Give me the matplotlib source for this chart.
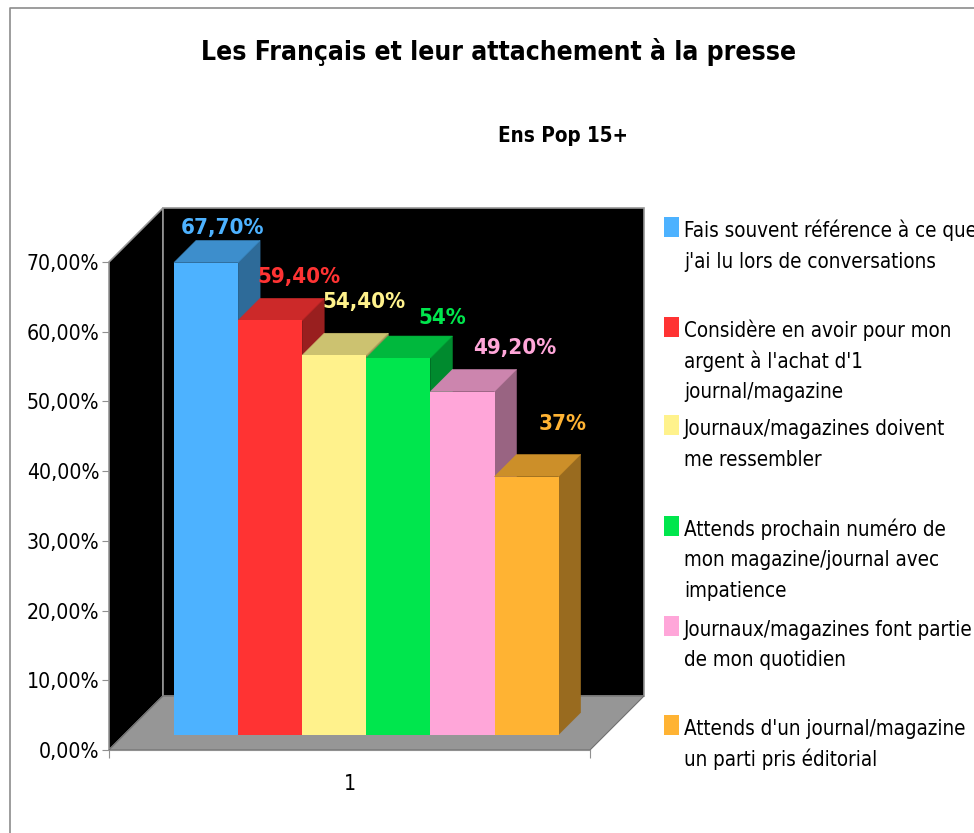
import matplotlib
matplotlib.use("Agg")
import matplotlib.pyplot as plt
from matplotlib.patches import Polygon, Rectangle
from matplotlib.lines import Line2D

plt.rcParams['font.family'] = ['DejaVu Sans']
plt.rcParams['font.stretch'] = 'condensed'

W, H = 974, 833

# Data
title = "Les Français et leur attachement à la presse"
subtitle = "Ens Pop 15+"
category = "1"
values = [67.7, 59.4, 54.4, 54.0, 49.2, 37.0]
value_labels = ["67,70%", "59,40%", "54,40%", "54%", "49,20%", "37%"]
y_ticks = [0, 10, 20, 30, 40, 50, 60, 70]
y_labels = ["0,00%", "10,00%", "20,00%", "30,00%", "40,00%", "50,00%", "60,00%", "70,00%"]
legend_labels = [
    "Fais souvent référence à ce que\nj'ai lu lors de conversations",
    "Considère en avoir pour mon\nargent à l'achat d'1\njournal/magazine",
    "Journaux/magazines doivent\nme ressembler",
    "Attends prochain numéro de\nmon magazine/journal avec\nimpatience",
    "Journaux/magazines font partie\nde mon quotidien",
    "Attends d'un journal/magazine\nun parti pris éditorial",
]
colors = ["#4DB2FF", "#FF3333", "#FFF28C", "#00E64D", "#FFA6D9", "#FFB333"]
tops = ["#3D8ECC", "#CC2929", "#CCC270", "#00B83D", "#CC85AE", "#CC8F29"]
sides = ["#2E6B99", "#991F1F", "#999154", "#008A2E", "#996482", "#996B1F"]

# Layout, pixels
def fx(x):
    return x / W

def fy(y):
    return 1 - y / H

fig = plt.figure(figsize=(W / 100, H / 100), dpi=100, facecolor="white")
ax = fig.add_axes([fx(109), fy(750), (590 - 109) / W, (750 - 262) / H])
ax.set_xlim(0, 481)
ax.set_ylim(0, 70)
ax.set_facecolor("none")
k = 488 / 70     # pixels per percent

# Frame
fig.add_artist(Line2D([fx(10), fx(10), 1], [0, fy(8), fy(8)], color="#8c8c8c", lw=1.2))

# Walls and floor
dx = 54
dy = 54 / k
grey = "#969696"
ax.add_patch(Polygon([(0, 0), (0, 70), (dx, 70 + dy), (dx, dy)], fc="black", ec=grey, lw=1.2, clip_on=False))
ax.add_patch(Polygon([(dx, dy), (dx, 70 + dy), (481 + dx, 70 + dy), (481 + dx, dy)], fc="black", ec=grey, lw=1.2, clip_on=False))
ax.add_patch(Polygon([(0, 0), (dx, dy), (481 + dx, dy), (481, 0)], fc=grey, ec="#707070", lw=0.8, clip_on=False))

# Bars
bw = 64.1
bx = 65
lift = 15.5 / k
d = 22
dd = 22 / k
for i, v in enumerate(values):
    x = bx + i * bw
    y = lift + v
    ax.add_patch(Polygon([(x + bw, lift), (x + bw + d, lift + dd), (x + bw + d, y + dd), (x + bw, y)],
                         fc=sides[i], ec=sides[i], lw=0.4, clip_on=False, zorder=3 + i))
    ax.add_patch(Polygon([(x, y), (x + d, y + dd), (x + bw + d, y + dd), (x + bw, y)],
                         fc=tops[i], ec=tops[i], lw=0.4, clip_on=False, zorder=3 + i))
    ax.bar(x, v, bottom=lift, width=bw, align="edge", color=colors[i], linewidth=0, zorder=3 + i, clip_on=False)

# Value labels
label_x = [114, 190, 255, 333, 406, 454]
label_y = [4.9, 6.2, 7.6, 5.8, 6.2, 7.5]
for i, v in enumerate(values):
    ax.text(label_x[i], lift + v + label_y[i], value_labels[i], color=colors[i], ha="center", va="center",
            fontsize=16, fontweight="bold", zorder=20, clip_on=False)

# Axes
for s in ["top", "right", "left"]:
    ax.spines[s].set_visible(False)
ax.spines["bottom"].set_color("#909090")
ax.set_yticks(y_ticks)
ax.set_yticklabels(y_labels, fontsize=15.2)
ax.set_xticks([0, 481])
ax.set_xticklabels([])
ax.set_xticks([240.5], [category], minor=True, fontsize=15.2)
ax.tick_params(axis="x", which="major", length=6, color="#909090")
ax.tick_params(axis="x", which="minor", length=0, pad=17)
ax.tick_params(axis="y", length=5, color="#909090", pad=2)

# Titles
fig.text(fx(499), fy(52), title, ha="center", va="center", fontsize=19, fontweight="bold")
fig.text(fx(563), fy(136), subtitle, ha="center", va="center", fontsize=14.8, fontweight="bold")

# Legend, one text per line to hold the line pitch
legend_y = [217, 317, 415, 516, 616, 715]
for i, lab in enumerate(legend_labels):
    fig.add_artist(Rectangle((fx(664), fy(legend_y[i] + 20)), 15 / W, 20 / H, fc=colors[i], ec="none",
                             transform=fig.transFigure))
    for j, line in enumerate(lab.split("\n")):
        fig.text(fx(684), fy(legend_y[i] + 20 + j * 30.5), line, ha="left", va="baseline", fontsize=14.8)

fig.savefig("out.png", dpi=100)
